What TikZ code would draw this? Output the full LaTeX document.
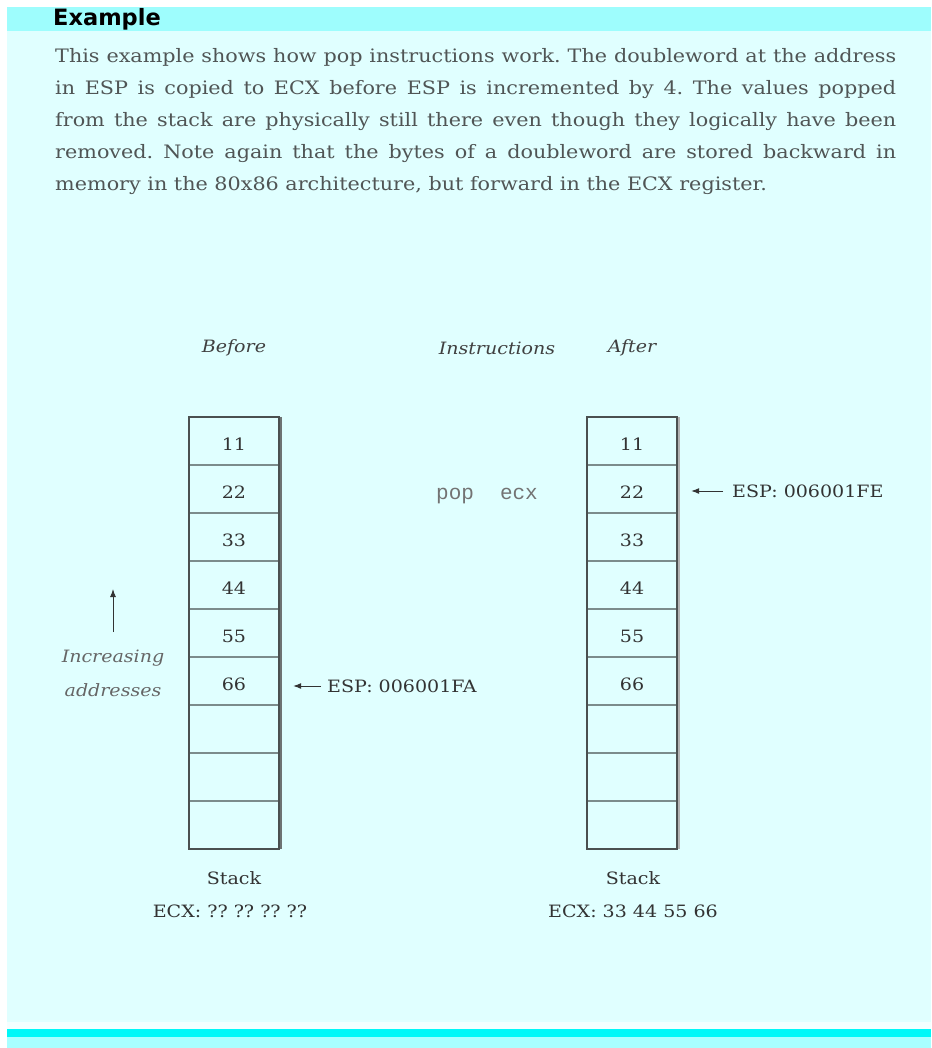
\documentclass[tikz,border=0pt]{standalone}
\usepackage{fontspec}
\setmainfont[FakeStretch=1.12]{DejaVu Serif}
\newfontfamily\parafont[FakeStretch=1.12]{DejaVu Serif}
\newfontfamily\hdrfont{DejaVu Sans}
\newfontfamily\monofont{Liberation Mono}
\usetikzlibrary{arrows.meta}
\definecolor{bgcyan}{HTML}{E0FFFF}
\definecolor{bandcyan}{HTML}{9EFDFD}
\definecolor{linecyan}{HTML}{00F8F8}
\definecolor{lowcyan}{HTML}{A8FFFF}
\definecolor{paletxt}{HTML}{505555}
\definecolor{boxline}{HTML}{4A5050}
\definecolor{rowline}{HTML}{7C8C8C}
\tikzset{
  para/.style={anchor=base west, inner sep=0pt, text=paletxt, font=\parafont\fontsize{18.5}{20}\selectfont},
  cell/.style={minimum width=90pt, minimum height=48pt, inner sep=0pt},
  lbl/.style={inner sep=0pt, text=black!80, font=\fontsize{17}{18}\selectfont},
  ilbl/.style={inner sep=0pt, text=black!75, font=\fontsize{17}{18}\itshape\selectfont},
  ptr/.style={draw=black!80, line width=1pt, -{Latex[length=8pt,width=6pt]}},
  frame/.style={draw=boxline, line width=2.2pt},
  divider/.style={draw=rowline, line width=1.6pt}
}
\frenchspacing
\begin{document}
\begin{tikzpicture}[x=1pt,y=-1pt]
\useasboundingbox (0,0) rectangle (931,1048);
\fill[white] (0,0) rectangle (931,1048);
% background panel
\fill[bgcyan] (7,7) rectangle (931,1022);
\fill[bandcyan] (7,7) rectangle (931,31);
\fill[white!60!bgcyan] (7,1022) rectangle (931,1029);
\fill[linecyan] (7,1029) rectangle (931,1037);
\fill[lowcyan] (7,1037) rectangle (931,1048);
% heading
\node[anchor=base west, inner sep=0pt, font=\hdrfont\bfseries\fontsize{22.5}{24}\selectfont] (hdr) at (53,26) {Example};
% paragraph
\node[para] (p1) at (55,63) {\hbox to 841pt{This example shows how pop instructions work. The doubleword at the address}};
\node[para] (p2) at (55,95) {\hbox to 841pt{in ESP is copied to ECX before ESP is incremented by 4. The values popped}};
\node[para] (p3) at (55,127) {\hbox to 841pt{from the stack are physically still there even though they logically have been}};
\node[para] (p4) at (55,159) {\hbox to 841pt{removed. Note again that the bytes of a doubleword are stored backward in}};
\node[para] (p5) at (55,191) {memory in the 80x86 architecture, but forward in the ECX register.};
% column titles
\node[ilbl] (before) at (234,348) {Before};
\node[ilbl] (instr) at (497,348) {Instructions};
\node[ilbl] (after) at (632,348) {After};
% stack cells
\foreach \i in {1,...,9} {
  \node[cell] (L\i) at (234,{417+48*\i-24}) {};
  \node[cell] (R\i) at (632,{417+48*\i-24}) {};
}
\foreach \i/\v in {1/11,2/22,3/33,4/44,5/55,6/66} {
  \node[lbl] (LV\i) at ([yshift=-3pt]L\i.center) {\v};
  \node[lbl] (RV\i) at ([yshift=-3pt]R\i.center) {\v};
}
\foreach \i in {1,...,8} {
  \draw[divider] (L\i.south west) -- (L\i.south east);
  \draw[divider] (R\i.south west) -- (R\i.south east);
}
\draw[frame] (L1.north west) rectangle (L9.south east);
\draw[frame] (R1.north west) rectangle (R9.south east);
\draw[draw=boxline!80, line width=1.4pt] ([xshift=1.8pt]L1.north east) -- ([xshift=1.8pt]L9.south east);
\draw[draw=black!30, line width=1.4pt] ([xshift=1.8pt]R1.north east) -- ([xshift=1.8pt]R9.south east);
% instruction
\node[anchor=base west, inner sep=0pt, text=black!55, font=\monofont\fontsize{21}{24}\selectfont] (pop) at (436,499) {pop\hspace{26pt}ecx};
% ESP pointers
\node[lbl, anchor=west] (espL) at (327,686) {ESP: 006001FA};
\node[lbl, anchor=west] (espR) at (732,491) {ESP: 006001FE};
\draw[ptr] ([xshift=-6pt]espL.west) -- ([xshift=14pt]L6.east |- espL.west);
\draw[ptr] ([xshift=-9pt]espR.west) -- ([xshift=14pt]R2.east |- espR.west);
% increasing addresses
\node[ilbl, text=black!60] (inc1) at (113,658) {Increasing};
\node[ilbl, text=black!60] (inc2) at (113,690) {addresses};
\coordinate (arrbot) at (113,632);
\coordinate (arrtop) at (113,589);
\draw[ptr] (arrbot) -- (arrtop);
% captions
\node[lbl] (stackL) at (234,878) {Stack};
\node[lbl] (ecxL) at (230,911) {ECX: ?? ?? ?? ??};
\node[lbl] (stackR) at (633,878) {Stack};
\node[lbl] (ecxR) at (633,911) {ECX: 33 44 55 66};
\end{tikzpicture}
\end{document}
